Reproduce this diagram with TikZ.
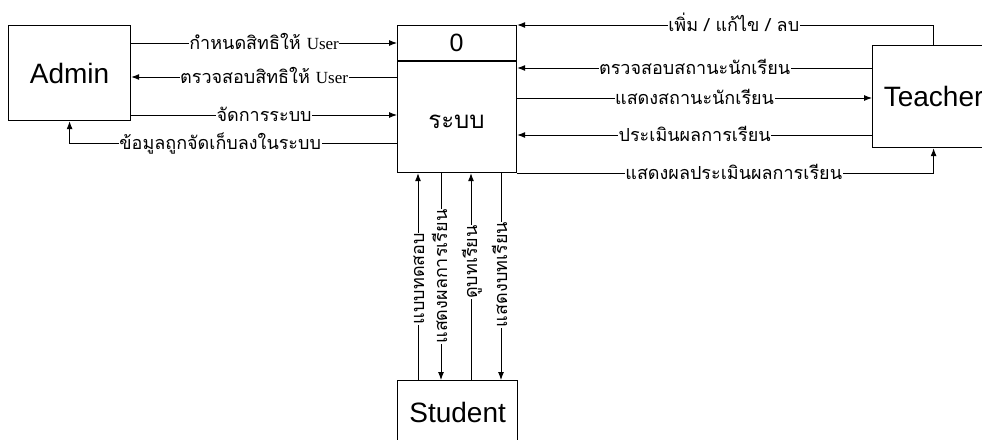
\documentclass[tikz,border=0pt]{standalone}
\usepackage{fontspec}
\setmainfont{Liberation Sans}
\newfontfamily\thaifont[Script=Thai]{Loma}
\newfontfamily\userfont{Liberation Serif}
\newcommand{\usr}{{\userfont\fontsize{17}{19}\selectfont User}}
\usetikzlibrary{arrows.meta, shapes}

\begin{document}
\begin{tikzpicture}[x=1pt, y=-1pt,
  box/.style={draw, line width=1.2pt, inner sep=0pt, anchor=north west},
  flow/.style={draw, line width=0.9pt, -{Latex[length=8pt, width=6pt]}},
  lbl/.style={fill=white, inner sep=0.5pt, text height=13pt, text depth=1pt,
              font=\thaifont\fontsize{18}{20}\selectfont},
  vlbl/.style={lbl, rotate=90}]

\useasboundingbox (0,0) rectangle (982,439);

\node[box, minimum width=122pt, minimum height=95pt,
      font=\fontsize{28}{30}\selectfont] (admin)   at (8,25)    {Admin};
\node[box, minimum width=119pt, minimum height=147pt]  (sys)     at (397,25)  {};
\node[box, minimum width=122pt, minimum height=102pt,
      font=\fontsize{28}{30}\selectfont] (teacher) at (872,45)  {Teacher};
\node[box, minimum width=120pt, minimum height=64pt,
      font=\fontsize{28}{30}\selectfont] (student) at (397,380) {Student};

\node[font=\fontsize{25}{27}\selectfont] (sysnum) at (456.5,43) {0};
\node[font=\thaifont\fontsize{24}{26}\selectfont] (sysname) at (456.5,122) {ระบบ};
\draw[line width=1.2pt] (sys.west |- 0,61) -- (sys.east |- 0,61);

% Admin
\draw[flow] (admin.east |- 0,43) -- node[lbl] {กำหนดสิทธิให้ \usr} (sys.west |- 0,43);
\draw[flow] (sys.west |- 0,77) -- node[lbl] {ตรวจสอบสิทธิให้ \usr} (admin.east |- 0,77);
\draw[flow] (admin.east |- 0,115) -- node[lbl] {จัดการระบบ} (sys.west |- 0,115);
\draw[flow] (sys.west |- 0,143) -| node[lbl, pos=0.27] {ข้อมูลถูกจัดเก็บลงในระบบ} (admin.south);

% Teacher
\draw[flow] (teacher.north) |- node[lbl, pos=0.74] {เพิ่ม / แก้ไข / ลบ} (sys.north east);
\draw[flow] (teacher.west |- 0,68) -- node[lbl] {ตรวจสอบสถานะนักเรียน} (sys.east |- 0,68);
\draw[flow] (sys.east |- 0,98) -- node[lbl] {แสดงสถานะนักเรียน} (teacher.west |- 0,98);
\draw[flow] (teacher.west |- 0,135) -- node[lbl] {ประเมินผลการเรียน} (sys.east |- 0,135);
\draw[flow] (sys.south east) -| node[lbl, pos=0.26] {แสดงผลประเมินผลการเรียน} (teacher.south);

% Student
\draw[flow] (student.north -| 418,0) -- node[vlbl, pos=0.49] {แบบทดสอบ} (sys.south -| 418,0);
\draw[flow] (sys.south -| 441,0) -- node[vlbl, pos=0.5] {แสดงผลการเรียน} (student.north -| 441,0);
\draw[flow] (student.north -| 471,0) -- node[vlbl, pos=0.57] {ดูบทเรียน} (sys.south -| 471,0);
\draw[flow] (sys.south -| 501,0) -- node[vlbl, pos=0.49] {แสดงบทเรียน} (student.north -| 501,0);

\end{tikzpicture}
\end{document}
